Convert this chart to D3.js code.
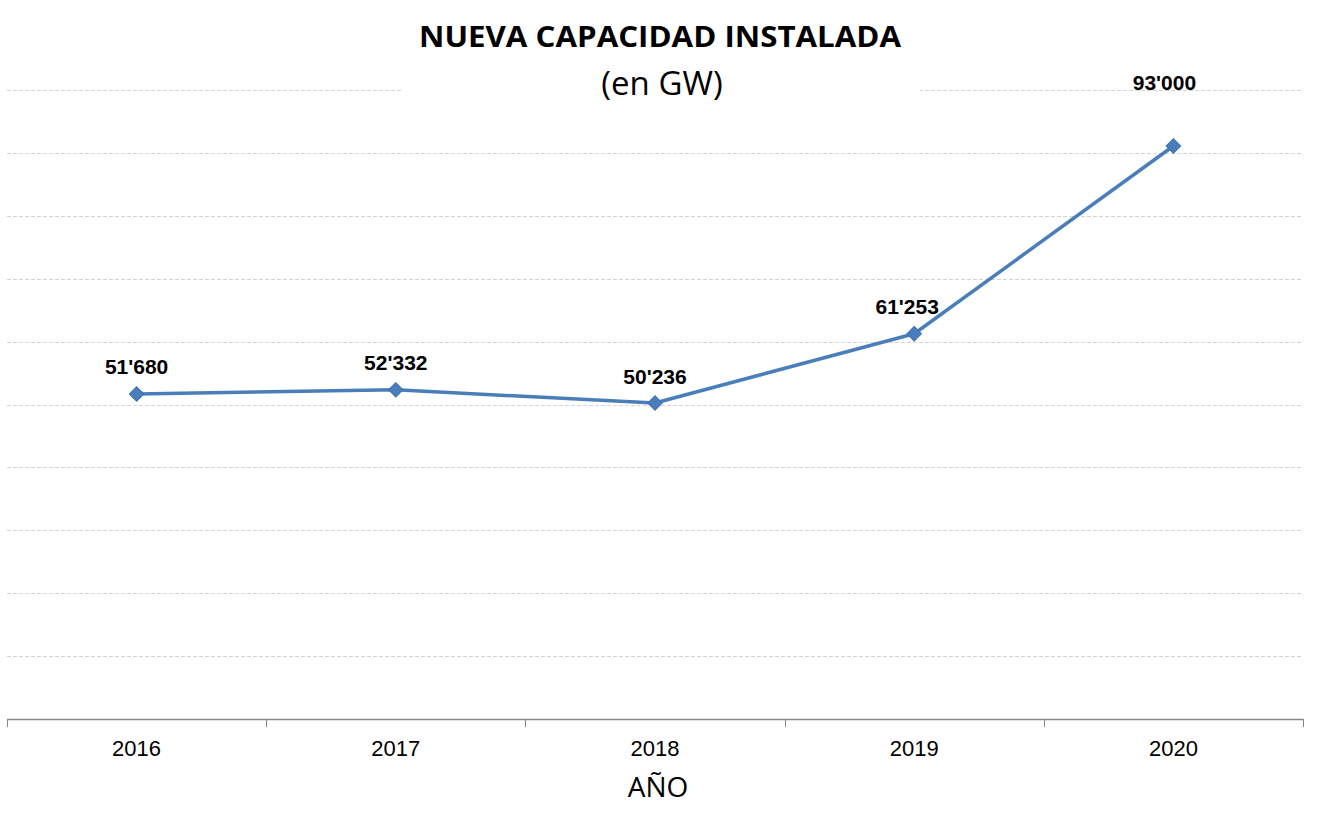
<!DOCTYPE html>
<html><head><meta charset="utf-8">
<script src="https://cdn.jsdelivr.net/npm/d3@7"></script>
<style>body{margin:0;background:#fff}svg{display:block}</style>
</head><body>
<svg id="c" width="1325" height="826"></svg>
<script>
const years = ["2016","2017","2018","2019","2020"];
const values = [51680, 52332, 50236, 61253, 91100];
const valueLabels = ["51'680","52'332","50'236","61'253","93'000"];
const yTicks = [0,10000,20000,30000,40000,50000,60000,70000,80000,90000,100000];

const svg = d3.select("#c");
const L = 7, R = 1303, T = 90, B = 719;
const x = d3.scaleBand().domain(years).range([L, R]);
const y = d3.scaleLinear().domain([0, 100000]).range([B, T]);

// gridlines
svg.append("g").selectAll("line").data(yTicks.filter(d => d > 0)).join("line")
  .attr("x1", L).attr("x2", R)
  .attr("y1", d => Math.round(y(d)) + 0.5).attr("y2", d => Math.round(y(d)) + 0.5)
  .attr("stroke", "#d4d4d4").attr("stroke-width", 1).attr("stroke-dasharray", "4,2");

// title background
svg.append("rect").attr("x", 403).attr("y", 10).attr("width", 517).attr("height", 95).attr("fill", "#fff");
svg.append("text").attr("x", 660).attr("y", 47).attr("text-anchor", "middle")
  .attr("font-family", "Open Sans, sans-serif").attr("font-weight", "bold").attr("font-size", 29)
  .attr("textLength", 482).attr("lengthAdjust", "spacingAndGlyphs")
  .text("NUEVA CAPACIDAD INSTALADA");
svg.append("text").attr("x", 662).attr("y", 95).attr("text-anchor", "middle")
  .attr("font-family", "Open Sans, sans-serif").attr("font-size", 33)
  .text("(en GW)");

// x axis
const xAxis = svg.append("g").attr("transform", `translate(0,${B})`);
xAxis.append("line").attr("x1", L).attr("x2", R).attr("y1", 0.5).attr("y2", 0.5).attr("stroke", "#868686").attr("stroke-width", 1.3);
const tickXs = years.map(d => x(d)).concat([R]);
xAxis.selectAll("line.t").data(tickXs).join("line").attr("class", "t")
  .attr("x1", d => Math.round(d) + 0.5).attr("x2", d => Math.round(d) + 0.5)
  .attr("y1", 0).attr("y2", 8).attr("stroke", "#868686");
xAxis.selectAll("text").data(years).join("text")
  .attr("x", d => x(d) + x.bandwidth() / 2).attr("y", 37)
  .attr("text-anchor", "middle").attr("font-family", "Liberation Sans, Arial, sans-serif")
  .attr("font-size", 22).attr("fill", "#000").text(d => d);

svg.append("text").attr("x", 658).attr("y", 797).attr("text-anchor", "middle")
  .attr("font-family", "Open Sans, sans-serif").attr("font-size", 28).text("AÑO");

// line
const cx = (d, i) => x(years[i]) + x.bandwidth() / 2;
const line = d3.line().x((d, i) => cx(d, i)).y(d => y(d));
svg.append("path").datum(values).attr("d", line)
  .attr("fill", "none").attr("stroke", "#4a7ebb").attr("stroke-width", 3.5).attr("stroke-linejoin", "round");

svg.append("g").selectAll("path").data(values).join("path")
  .attr("d", d3.symbol().type(d3.symbolSquare).size(105))
  .attr("transform", (d, i) => `translate(${cx(d, i)},${y(d)}) rotate(45)`)
  .attr("fill", "#4a7ebb").attr("stroke", "#3f72b0").attr("stroke-width", 1);

// data labels
const labelDy = [-20, -20, -19, -20, -56];
const labelDx = [0, 0, 0, -7, -9];
svg.append("g").selectAll("text").data(values).join("text")
  .attr("x", (d, i) => cx(d, i) + labelDx[i]).attr("y", (d, i) => y(d) + labelDy[i])
  .attr("text-anchor", "middle").attr("font-family", "Liberation Sans, Arial, sans-serif")
  .attr("font-weight", "bold").attr("font-size", 21).attr("fill", "#000")
  .text((d, i) => valueLabels[i]);
</script>
</body></html>
